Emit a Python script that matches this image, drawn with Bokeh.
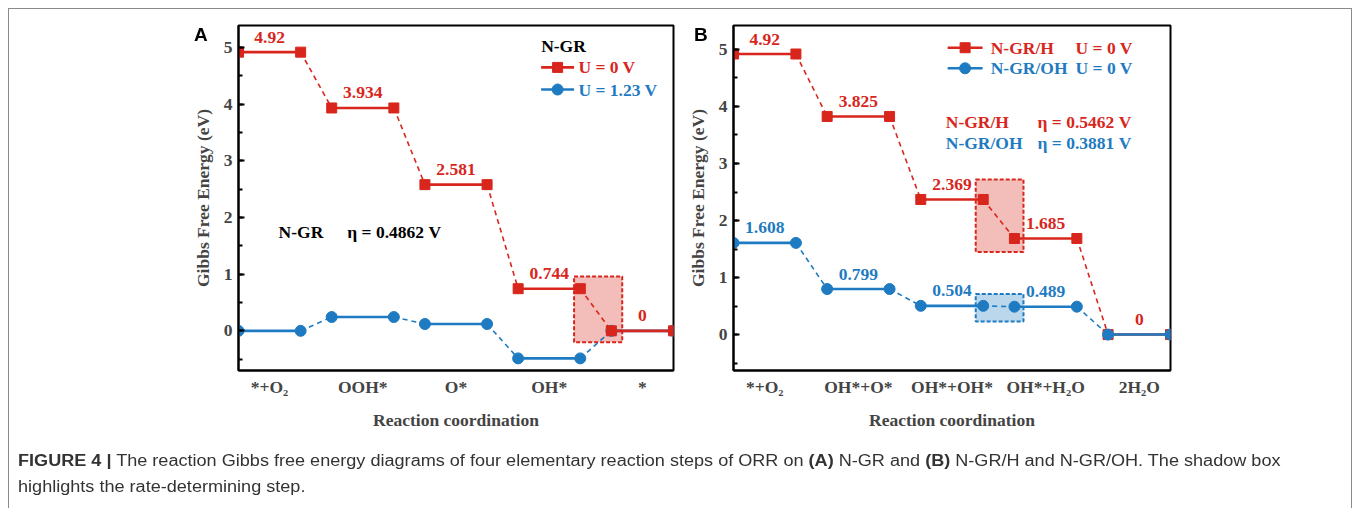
from bokeh.plotting import figure
from bokeh.layouts import column, row
from bokeh.models import Range1d, SingleIntervalTicker, FixedTicker, Div
from bokeh.core.properties import value
from bokeh.embed import file_html
from bokeh.resources import INLINE

# ---------------- data ----------------
cats_a = ["*+O\u2082", "OOH*", "O*", "OH*", "*"]
red_a = [4.92, 3.934, 2.581, 0.744, 0.0]      # N-GR, U = 0 V
blue_a = [0.0, 0.244, 0.121, -0.486, 0.0]     # N-GR, U = 1.23 V
red_a_lbl = ["4.92", "3.934", "2.581", "0.744", "0"]

cats_b = ["*+O\u2082", "OH*+O*", "OH*+OH*", "OH*+H\u2082O", "2H\u2082O"]
red_b = [4.92, 3.825, 2.369, 1.685, 0.0]      # N-GR/H, U = 0 V
blue_b = [1.608, 0.799, 0.504, 0.489, 0.0]    # N-GR/OH, U = 0 V
red_b_lbl = ["4.92", "3.825", "2.369", "1.685", "0"]
blue_b_lbl = ["1.608", "0.799", "0.504", "0.489", None]

# rate-determining-step shadow boxes: (left, right, bottom, top)
rds_a = (10.8, 12.35, -0.2, 0.96)
rds_b_red = (7.76, 9.29, 1.45, 2.72)
rds_b_blue = (7.76, 9.29, 0.23, 0.71)

RED = "#d8261c"
BLUE = "#1f7bc1"
SERIF = "Liberation Serif"
FS = "17.5px"


def step_xy(vals):
    xs, ys = [], []
    for i, v in enumerate(vals):
        xs.append([3 * i, 3 * i + 2])
        ys.append([v, v])
    return xs, ys


def conn_xy(vals):
    xs, ys = [], []
    for i in range(len(vals) - 1):
        xs.append([3 * i + 2, 3 * i + 3])
        ys.append([vals[i], vals[i + 1]])
    return xs, ys


def ends(vals):
    xs, ys = [], []
    for i, v in enumerate(vals):
        xs += [3 * i, 3 * i + 2]
        ys += [v, v]
    return xs, ys


def draw_series(p, vals, color, marker):
    cx, cy = conn_xy(vals)
    p.multi_line(cx, cy, line_color=color, line_width=1.6, line_dash="5 4")
    sx, sy = step_xy(vals)
    p.multi_line(sx, sy, line_color=color, line_width=2.6)
    ex, ey = ends(vals)
    if marker == "square":
        p.scatter(ex, ey, marker="square", size=10, fill_color=color, line_color=color)
    else:
        p.scatter(ex, ey, marker="circle", size=11, fill_color=color, line_color=color)


def value_labels(p, vals, labels, color):
    xs, ys, ts = [], [], []
    for i, (v, t) in enumerate(zip(vals, labels)):
        if t is None:
            continue
        xs.append(3 * i + 1)
        ys.append(v)
        ts.append(t)
    p.text(xs, ys, text=ts, text_color=color, text_font=value(SERIF),
           text_font_style="bold", text_font_size=FS, text_align="center",
           text_baseline="middle", y_offset=-15)


def txt(p, x, y, s, color="black", align="left"):
    p.text([x], [y], text=[s], text_color=color, text_font=value(SERIF),
           text_font_style="bold", text_font_size=FS, text_align=align,
           text_baseline="middle")


def base_fig(width, height, yr, mbl, mbr, mbt, mbb, cats):
    p = figure(width=width, height=height, output_backend="svg", toolbar_location=None,
               x_range=Range1d(0, 14), y_range=Range1d(*yr),
               min_border_left=mbl, min_border_right=mbr, min_border_top=mbt,
               min_border_bottom=mbb)
    p.grid.visible = False
    p.outline_line_color = "black"
    p.outline_line_width = 2
    p.outline_line_alpha = 1
    p.background_fill_color = "white"
    p.border_fill_color = "white"
    yax = p.yaxis[0]
    yax.ticker = SingleIntervalTicker(interval=1, num_minor_ticks=2)
    yax.major_tick_in = 6
    yax.major_tick_out = 0
    yax.minor_tick_in = 4
    yax.minor_tick_out = 0
    yax.major_tick_line_width = 2
    yax.minor_tick_line_width = 2
    yax.axis_line_width = 2
    yax.major_label_text_font = SERIF
    yax.major_label_text_font_style = "bold"
    yax.major_label_text_font_size = FS
    yax.major_label_standoff = 6
    yax.axis_label = "Gibbs Free Energy (eV)"
    yax.axis_label_text_font = SERIF
    yax.axis_label_text_font_style = "bold"
    yax.axis_label_text_font_size = FS
    yax.axis_label_standoff = 8
    xax = p.xaxis[0]
    xax.ticker = FixedTicker(ticks=[1, 4, 7, 10, 13])
    xax.major_label_overrides = {1: cats[0], 4: cats[1], 7: cats[2], 10: cats[3], 13: cats[4]}
    xax.major_tick_in = 0
    xax.major_tick_out = 0
    xax.minor_tick_in = 0
    xax.minor_tick_out = 0
    xax.axis_line_width = 2
    xax.major_label_text_font = SERIF
    xax.major_label_text_font_style = "bold"
    xax.major_label_text_font_size = FS
    xax.major_label_standoff = 6
    xax.axis_label = "Reaction coordination"
    xax.axis_label_text_font = SERIF
    xax.axis_label_text_font_style = "bold"
    xax.axis_label_text_font_size = FS
    xax.axis_label_standoff = 10
    return p


# ---------------- panel A ----------------
pA = base_fig(680, 432, (-0.7, 5.39), 238, 7, 25, 61, cats_a)
pA.quad(left=[rds_a[0]], right=[rds_a[1]], bottom=[rds_a[2]], top=[rds_a[3]],
        fill_color=RED, fill_alpha=0.3, line_color=RED, line_width=2, line_dash="4 2")
draw_series(pA, blue_a, BLUE, "circle")
draw_series(pA, red_a, RED, "square")
value_labels(pA, red_a, red_a_lbl, RED)
# legend
txt(pA, 9.74, 5.02, "N-GR")
pA.line([9.74, 10.8], [4.65, 4.65], line_color=RED, line_width=2.6)
pA.scatter([10.27], [4.65], marker="square", size=10, color=RED)
txt(pA, 10.94, 4.65, "U = 0 V", RED)
pA.line([9.74, 10.8], [4.26, 4.26], line_color=BLUE, line_width=2.6)
pA.scatter([10.27], [4.26], marker="circle", size=11, color=BLUE)
txt(pA, 10.94, 4.26, "U = 1.23 V", BLUE)
txt(pA, 1.29, 1.74, "N-GR")
txt(pA, 3.5, 1.74, "\u03b7 = 0.4862 V")

# ---------------- panel B ----------------
pB = base_fig(678, 432, (-0.63, 5.42), 53, 188, 25, 60, cats_b)
pB.quad(left=[rds_b_red[0]], right=[rds_b_red[1]], bottom=[rds_b_red[2]], top=[rds_b_red[3]],
        fill_color=RED, fill_alpha=0.3, line_color=RED, line_width=2, line_dash="4 2")
pB.quad(left=[rds_b_blue[0]], right=[rds_b_blue[1]], bottom=[rds_b_blue[2]], top=[rds_b_blue[3]],
        fill_color=BLUE, fill_alpha=0.3, line_color=BLUE, line_width=2, line_dash="4 2")
draw_series(pB, red_b, RED, "square")
draw_series(pB, blue_b, BLUE, "circle")
value_labels(pB, red_b, red_b_lbl, RED)
value_labels(pB, blue_b, blue_b_lbl, BLUE)
pB.line([6.86, 7.98], [5.03, 5.03], line_color=RED, line_width=2.6)
pB.scatter([7.42], [5.03], marker="square", size=10, color=RED)
txt(pB, 8.24, 5.03, "N-GR/H", RED)
txt(pB, 10.96, 5.03, "U = 0 V", RED)
pB.line([6.86, 7.98], [4.67, 4.67], line_color=BLUE, line_width=2.6)
pB.scatter([7.42], [4.67], marker="circle", size=11, color=BLUE)
txt(pB, 8.24, 4.67, "N-GR/OH", BLUE)
txt(pB, 10.96, 4.67, "U = 0 V", BLUE)
txt(pB, 6.8, 3.73, "N-GR/H", RED)
txt(pB, 9.74, 3.73, "\u03b7 = 0.5462 V", RED)
txt(pB, 6.8, 3.36, "N-GR/OH", BLUE)
txt(pB, 9.74, 3.36, "\u03b7 = 0.3881 V", BLUE)

panel_font = "font-family:'Liberation Sans';font-weight:bold;font-size:19px;color:#000;"
caption_html = (
    '<div style="position:fixed;left:8px;top:8px;width:1344px;height:540px;'
    'border:1.5px solid #8a8a8a;box-sizing:border-box;pointer-events:none;"></div>'
    '<div style="position:fixed;left:194px;top:21px;' + panel_font + '">A</div>'
    '<div style="position:fixed;left:694px;top:21px;' + panel_font + '">B</div>'
    '<div style="position:fixed;left:18px;top:448px;font-family:\'Liberation Sans\';'
    'font-size:16px;line-height:26px;color:#333;white-space:nowrap;'
    'transform:scaleX(1.13);transform-origin:left top;">'
    '<b>FIGURE 4 |</b> The reaction Gibbs free energy diagrams of four elementary reaction '
    'steps of ORR on <b>(A)</b> N-GR and <b>(B)</b> N-GR/H and N-GR/OH. The shadow box<br>'
    'highlights the rate-determining step.</div>'
)
cap = Div(text=caption_html, width=1358, height=76, styles={"position": "relative"})

layout = column(row(pA, pB), cap)
open("out.html", "w").write(file_html(layout, INLINE))
